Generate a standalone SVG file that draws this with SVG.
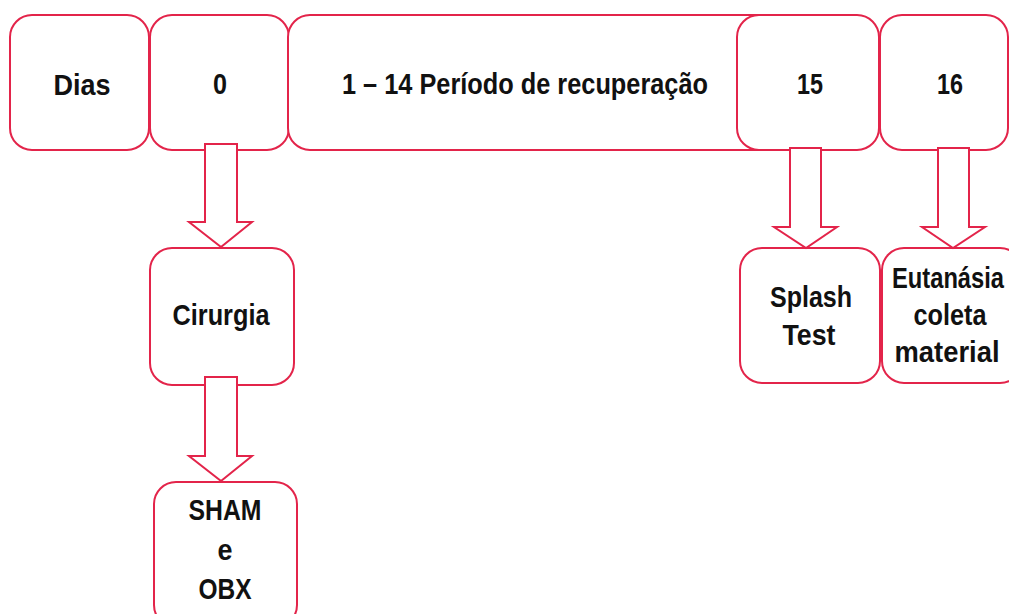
<svg xmlns="http://www.w3.org/2000/svg" width="1009" height="614" viewBox="0 0 1009 614">
<style>
.box{fill:#fff;stroke:#e3244a;stroke-width:2}
.arr{fill:#fff;stroke:#e3244a;stroke-width:2;stroke-linejoin:miter}
text{font-family:"Liberation Sans",Arial,sans-serif;font-weight:bold;font-size:30px;fill:#111;text-anchor:middle}
</style>
<rect width="1009" height="614" fill="#fff"/>
<g id="dias"><rect class="box" x="10" y="15" width="139" height="135" rx="22"/><text x="82" y="95" textLength="57" lengthAdjust="spacingAndGlyphs" font-size="32">Dias</text></g>
<g id="d0"><rect class="box" x="150" y="15" width="139" height="135" rx="22"/><text x="220" y="94" textLength="14" lengthAdjust="spacingAndGlyphs">0</text></g>
<g id="d1-14"><rect class="box" x="288" y="15" width="562" height="135" rx="22"/><text x="525" y="94" textLength="366" lengthAdjust="spacingAndGlyphs">1 – 14 Período de recuperação</text></g>
<g id="d15"><rect class="box" x="737" y="15" width="142" height="135" rx="22"/><text x="810" y="94" textLength="26" lengthAdjust="spacingAndGlyphs">15</text></g>
<g id="d16"><rect class="box" x="880" y="15" width="128" height="135" rx="22"/><text x="950" y="94" textLength="26" lengthAdjust="spacingAndGlyphs">16</text></g>
<g id="cirurgia"><rect class="box" x="150" y="248" width="144" height="137" rx="22"/><text x="221" y="325" textLength="97" lengthAdjust="spacingAndGlyphs">Cirurgia</text></g>
<g id="sham"><rect class="box" x="154" y="482" width="143" height="145" rx="22"/><text x="225" y="520" textLength="73" lengthAdjust="spacingAndGlyphs">SHAM</text><text x="225" y="560" textLength="15" lengthAdjust="spacingAndGlyphs">e</text><text x="225" y="599" textLength="53" lengthAdjust="spacingAndGlyphs">OBX</text></g>
<g id="splash"><rect class="box" x="740" y="248" width="140" height="135" rx="22"/><text x="811" y="307" textLength="82" lengthAdjust="spacingAndGlyphs">Splash</text><text x="809" y="345" textLength="53" lengthAdjust="spacingAndGlyphs">Test</text></g>
<g id="eutanasia"><rect class="box" x="882" y="248" width="140" height="135" rx="22"/><text transform="translate(948,288) scale(0.79,1)" x="0" y="0">Eutanásia</text><text x="950" y="325" textLength="73" lengthAdjust="spacingAndGlyphs">coleta</text><text x="947" y="362" textLength="105" lengthAdjust="spacingAndGlyphs">material</text></g>
<g id="connectors">
<polygon class="arr" points="205,144 237,144 237,222 252,222 221,247 189,222 205,222"/>
<polygon class="arr" points="205,377 237,377 237,456 252,456 221,481 189,456 205,456"/>
<polygon class="arr" points="790,148 821,148 821,227 837,227 806,248 774,227 790,227"/>
<polygon class="arr" points="938,148 969,148 969,227 985,227 953,248 922,227 938,227"/>
</g>
</svg>
